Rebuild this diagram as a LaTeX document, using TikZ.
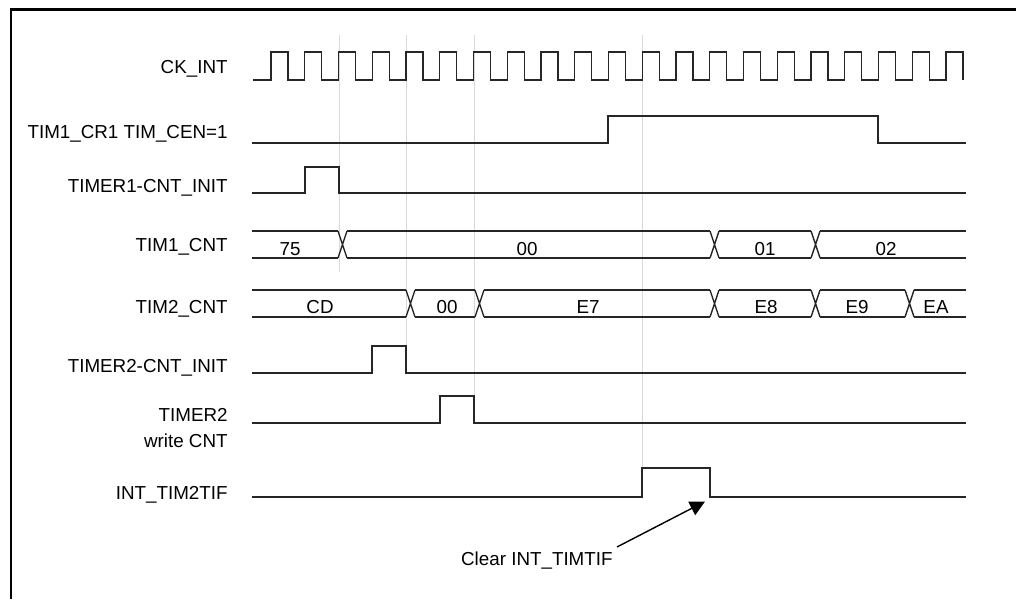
\documentclass[tikz,border=0pt]{standalone}
\usepackage{fontspec}
\setmainfont{Liberation Sans}
\usetikzlibrary{arrows.meta}
\tikzset{
  sig/.style={line width=0.7pt, black!85},
  gridln/.style={line width=0.5pt, black!15},
  lbl/.style={anchor=base east, inner sep=2pt},
  val/.style={anchor=base, inner sep=1pt}
}
\begin{document}
\begin{tikzpicture}[x=0.5pt, y=-0.5pt, font=\fontsize{9.4}{13}\selectfont]
  \useasboundingbox (0,0) rectangle (1016,599);
  \draw[line width=1.1pt] (11,599) -- (11,9.5) -- (1016,9.5);
  \draw[gridln] (339,35) -- (339,272);
  \draw[gridln] (406,35) -- (406,346);
  \draw[gridln] (474,35) -- (474,396);
  \draw[gridln] (642,35) -- (642,468);
  \node[lbl] (CK) at (232,74) {CK\_INT};
  \node[lbl] (CEN) at (232,138) {TIM1\_CR1 TIM\_CEN=1};
  \node[lbl] (I1) at (232,192) {TIMER1-CNT\_INIT};
  \node[lbl] (C1) at (232,251) {TIM1\_CNT};
  \node[lbl] (C2) at (232,313) {TIM2\_CNT};
  \node[lbl] (I2) at (232,372) {TIMER2-CNT\_INIT};
  \node[lbl] (W2) at (232,421) {TIMER2};
  \node[lbl] (W2b) at (232,447) {write CNT};
  \node[lbl] (IF) at (232,499) {INT\_TIM2TIF};
  \node[lbl] (CLR) at (617,565) {Clear INT\_TIMTIF};
  \draw[sig] (253,80) foreach \k in {0,...,20} { -- ({271+33.75*\k},80) -- ++(0,-28) -- ++(17,0) -- ++(0,28) };
  \draw[sig] (252,143) -- (608,143) -- (608,116) -- (878,116) -- (878,143) -- (966,143);
  \draw[sig] (252,193) -- (305,193) -- (305,167) -- (339,167) -- (339,193) -- (966,193);
  \foreach \a/\b in {252/338,347/710,719/811,820/966}
    \draw[sig] (\a,231) -- (\b,231) (\a,258) -- (\b,258);
  \foreach \t in {338,710,811}
    \draw[sig] (\t,231) -- ++(9,27) (\t,258) -- ++(9,-27);
  \node[val] (v75) at (290,255) {75};
  \node[val] (v00) at (527,255) {00};
  \node[val] (v01) at (765,255) {01};
  \node[val] (v02) at (886,255) {02};
  \foreach \a/\b in {252/406,415/475,484/710,719/811,820/905,914/966}
    \draw[sig] (\a,290) -- (\b,290) (\a,317) -- (\b,317);
  \foreach \t in {406,475,710,811,905}
    \draw[sig] (\t,290) -- ++(9,27) (\t,317) -- ++(9,-27);
  \node[val] (vCD) at (320,313) {CD};
  \node[val] (w00) at (447,313) {00};
  \node[val] (vE7) at (588,313) {E7};
  \node[val] (vE8) at (766,313) {E8};
  \node[val] (vE9) at (857,313) {E9};
  \node[val] (vEA) at (936,313) {EA};
  \draw[sig] (252,373) -- (372,373) -- (372,346) -- (406,346) -- (406,373) -- (966,373);
  \draw[sig] (252,423) -- (440,423) -- (440,396) -- (474,396) -- (474,423) -- (966,423);
  \draw[sig] (252,497) -- (642,497) -- (642,468) -- (710,468) -- (710,497) -- (966,497);
  \coordinate (tip) at (705,501.5);
  \draw[sig, black, -{Triangle[length=7.5pt,width=7.5pt]}] (CLR.north east) -- (tip);
\end{tikzpicture}
\end{document}
